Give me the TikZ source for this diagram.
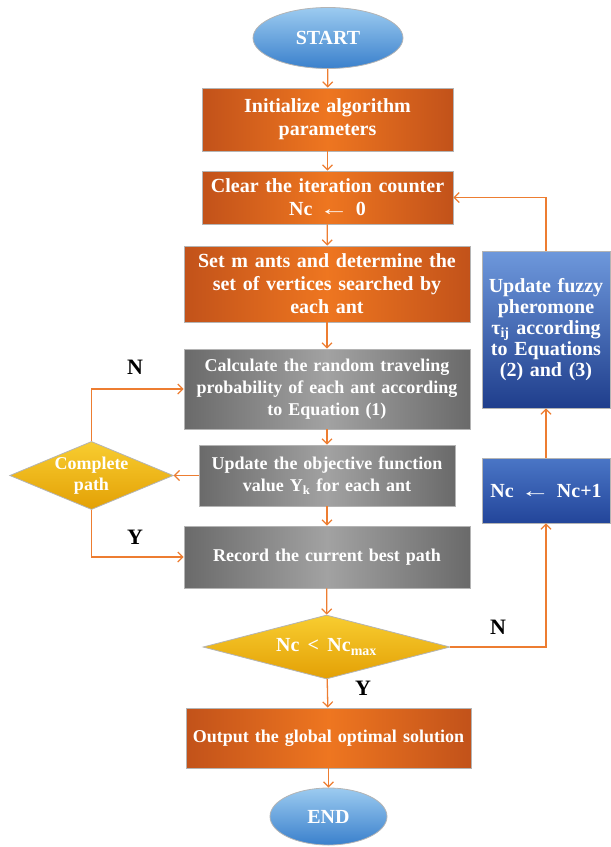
\documentclass[tikz,border=0pt]{standalone}
\usepackage{fontspec}
\setmainfont{Liberation Serif}
\usetikzlibrary{shapes.geometric,arrows.meta}
\definecolor{arrowc}{HTML}{ED7D31}
\definecolor{oedge}{HTML}{C2521A}
\definecolor{omid}{HTML}{EE7620}
\definecolor{gedge}{HTML}{6A6A6A}
\definecolor{gmid}{HTML}{A2A2A2}
\definecolor{btop}{HTML}{6E98DC}
\definecolor{bbot}{HTML}{1F3E8C}
\definecolor{b2top}{HTML}{4A76C6}
\definecolor{b2bot}{HTML}{23459A}
\definecolor{etop}{HTML}{9CCBF0}
\definecolor{ebot}{HTML}{3A80CC}
\definecolor{dtop}{HTML}{F8CD30}
\definecolor{dbot}{HTML}{E3A005}
\definecolor{bord}{HTML}{B4B4B4}
\newcommand{\longarr}{\scalebox{1.5}[1]{←}}
\tikzset{
  x=1pt, y=-1pt,
  base/.style={draw=bord, line width=0.8pt, text=white, align=center, inner sep=2pt, font=\bfseries},
  obox/.style={base, rectangle, left color=oedge, right color=oedge, middle color=omid, font=\bfseries\fontsize{20}{23}\selectfont},
  gbox/.style={base, rectangle, left color=gedge, right color=gedge, middle color=gmid, font=\bfseries\fontsize{18}{22}\selectfont},
  oboxs/.style={base, rectangle, left color=oedge, right color=oedge, middle color=omid, font=\bfseries\fontsize{18}{22}\selectfont},
  bbox/.style={base, rectangle, top color=btop, bottom color=bbot, font=\bfseries\fontsize{20}{21}\selectfont},
  bbox2/.style={base, rectangle, top color=b2top, bottom color=b2bot, font=\bfseries\fontsize{20}{23}\selectfont},
  term/.style={base, ellipse, top color=etop, bottom color=ebot, font=\bfseries\fontsize{20}{23}\selectfont},
  dec/.style={base, diamond, top color=dtop, bottom color=dbot, inner sep=0pt},
  lab/.style={font=\bfseries\fontsize{22}{24}\selectfont, text=black},
  arr/.style={draw=arrowc, line width=1.3pt, -{Straight Barb[length=5pt,width=10pt,line width=1.2pt]}},
}
\begin{document}
\begin{tikzpicture}
\useasboundingbox (0,0) rectangle (611,847);
\node[term, minimum width=150, minimum height=61] (start) at (328,38) {START};
\node[obox, minimum width=251, minimum height=63, text width=240] (init) at (327.5,119.5) {Initialize algorithm\\parameters};
\node[obox, minimum width=251, minimum height=53, text width=245] (clear) at (327.5,197.5) {Clear the iteration counter\\Nc \longarr{} 0};
\node[obox, minimum width=286, minimum height=76, text width=276] (setm) at (327,284) {Set m ants and determine the\\set of vertices searched by\\each ant};
\node[gbox, minimum width=286, minimum height=80, text width=276] (calc) at (327,389) {Calculate the random traveling\\probability of each ant according\\to Equation (1)};
\node[gbox, minimum width=256, minimum height=61, text width=246] (upd) at (327,475.5) {Update the objective function\\value Y\textsubscript{k} for each ant};
\node[gbox, minimum width=286, minimum height=62, text width=276] (rec) at (327,557) {Record the current best path};
\node[dec, minimum width=157, minimum height=65, shape aspect=2.4, font=\bfseries\fontsize{18}{21}\selectfont] (cp) at (91.5,475.5) {Complete\\path};
\node[dec, minimum width=247, minimum height=64, shape aspect=3.8, font=\bfseries\fontsize{20}{22}\selectfont] (nc) at (326.5,647) {Nc \,<\, Nc\textsubscript{max}};
\node[oboxs, minimum width=285, minimum height=60, text width=275] (out) at (328.5,738) {Output the global optimal solution};
\node[term, minimum width=117, minimum height=57] (end) at (328.5,816.5) {END};
\node[bbox, minimum width=128, minimum height=157, text width=124, inner sep=1pt] (fuzzy) at (546,329.5) {Update fuzzy\\pheromone\\τ\textsubscript{ij} according\\to Equations\\(2) and (3)};
\node[bbox2, minimum width=128, minimum height=65, text width=124, inner sep=1pt] (inc) at (546,490.5) {Nc \longarr{} Nc+1};
\draw[arr] (start) -- (init);
\draw[arr] (init) -- (clear);
\draw[arr] (clear) -- (setm);
\draw[arr] (setm) -- (calc);
\draw[arr] (calc) -- (upd);
\draw[arr] (upd) -- (rec);
\draw[arr] (rec) -- (nc);
\draw[arr] (nc) -- (out);
\draw[arr] (out) -- (end);
\draw[arr] (upd.west) -- (cp.east);
\draw[arr] (cp.north) |- (calc.west);
\draw[arr] (cp.south) |- (rec.west);
\draw[arr] (nc.east) -| (inc.south);
\draw[arr] (inc) -- (fuzzy);
\draw[arr] (fuzzy.north) |- (clear.east);
\node[lab] (ln1) at (135,367) {N};
\node[lab] (ly1) at (135,537) {Y};
\node[lab] (ln2) at (498,627) {N};
\node[lab] (ly2) at (363,688) {Y};
\end{tikzpicture}
\end{document}
